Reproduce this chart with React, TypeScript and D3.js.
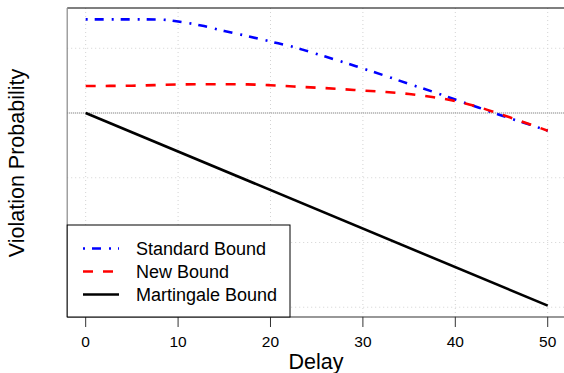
import React from "react";
import * as d3 from "d3";

// delay values (x) and log10 violation probability (y)
const delays = [0, 5, 8, 10, 12.5, 15, 17.5, 20, 22.5, 25, 27.5, 30, 32.5, 35, 37.5, 40, 42.5, 45, 47.5, 50];
const standardBound = [-0.553, -0.553, -0.556, -0.587, -0.649, -0.734, -0.811, -0.896, -0.981, -1.089, -1.197, -1.313, -1.429, -1.552, -1.668, -1.792, -1.915, -2.039, -2.154, -2.273];

const newDelays = [0, 5, 10, 15, 17.5, 20, 22.5, 25, 27.5, 30, 32.5, 35, 37.5, 40, 42.5, 45, 47.5, 50];
const newBound = [-1.583, -1.578, -1.56, -1.555, -1.558, -1.571, -1.591, -1.609, -1.629, -1.653, -1.676, -1.707, -1.753, -1.815, -1.907, -2.023, -2.147, -2.273];

const martDelays = [0, 50];
const martingaleBound = [-2, -4.976];

const xTicks = [0, 10, 20, 30, 40, 50];
const yGrid = [-1, -3, -4, -5];
const threshold = -2;

const legendItems = [
  { label: "Standard Bound", color: "#0000ff", dash: "2,7,9,8" },
  { label: "New Bound", color: "#ff0000", dash: "10,10" },
  { label: "Martingale Bound", color: "#000000", dash: "none" },
];

export default function App() {
  const left = 67.2;
  const right = 566.2;
  const top = 8;
  const bottom = 317;

  const x = d3.scaleLinear().domain([-2, 52]).range([left, right]);
  const y = d3.scaleLinear().domain([-5.151, -0.378]).range([bottom, top]);

  const mk = (xs: number[], ys: number[]) =>
    d3
      .line<number>()
      .x((_, i) => x(xs[i]))
      .y((d) => y(d))
      .curve(d3.curveMonotoneX)(ys) || "";

  const font = "Liberation Sans, Arial, sans-serif";

  return (
    <svg
      width={564}
      height={373}
      style={{ position: "absolute", left: 0, top: 0, background: "#fff" }}
      fontFamily={font}
    >
      <defs>
        <clipPath id="plot">
          <rect x={left} y={top} width={right - left} height={bottom - top} />
        </clipPath>
      </defs>
      {/* grid */}
      {xTicks.map((t) => (
        <line key={"vx" + t} x1={x(t)} x2={x(t)} y1={top} y2={bottom}
          stroke="#d3d3d3" strokeWidth={1} strokeDasharray="1,3" />
      ))}
      {yGrid.map((t) => (
        <line key={"hy" + t} x1={left} x2={right} y1={y(t)} y2={y(t)}
          stroke="#d3d3d3" strokeWidth={1} strokeDasharray="1,3" />
      ))}
      <line x1={left} x2={right} y1={y(threshold)} y2={y(threshold)}
        stroke="#999" strokeWidth={1.5} strokeDasharray="1,1" />

      <g clipPath="url(#plot)" fill="none" strokeWidth={2.6}>
        <path d={mk(delays, standardBound)} stroke="#0000ff" strokeDasharray="2,7,9,8" />
        <path d={mk(newDelays, newBound)} stroke="#ff0000" strokeDasharray="10,10" />
        <path d={mk(martDelays, martingaleBound)} stroke="#000" />
      </g>

      {/* frame */}
      <line x1={left} x2={right} y1={top} y2={top} stroke="#000" strokeWidth={1.2} />
      <line x1={left} x2={left} y1={top} y2={bottom} stroke="#888" strokeWidth={1.2} />
      <line x1={left} x2={right} y1={bottom} y2={bottom} stroke="#333" strokeWidth={1.2} />

      {/* x axis ticks */}
      {xTicks.map((t) => (
        <g key={"t" + t}>
          <line x1={x(t)} x2={x(t)} y1={bottom} y2={bottom + 10} stroke="#333" strokeWidth={1} />
          <text x={x(t)} y={347} textAnchor="middle" fontSize={15.5}>{t}</text>
        </g>
      ))}
      <text x={316} y={369} textAnchor="middle" fontSize={21.5}>Delay</text>
      <text transform="translate(24,163) rotate(-90)" textAnchor="middle" fontSize={21.5}>
        Violation Probability
      </text>

      {/* legend */}
      <rect x={left} y={225} width={290 - left} height={bottom - 225} fill="#fff" stroke="#000" strokeWidth={1} />
      {legendItems.map((d, i) => {
        const ly = 248.5 + i * 23;
        return (
          <g key={d.label}>
            <line x1={83} x2={119} y1={ly} y2={ly} stroke={d.color} strokeWidth={2.6}
              strokeDasharray={d.dash} />
            <text x={136} y={ly + 6.5} fontSize={18}>{d.label}</text>
          </g>
        );
      })}
    </svg>
  );
}
